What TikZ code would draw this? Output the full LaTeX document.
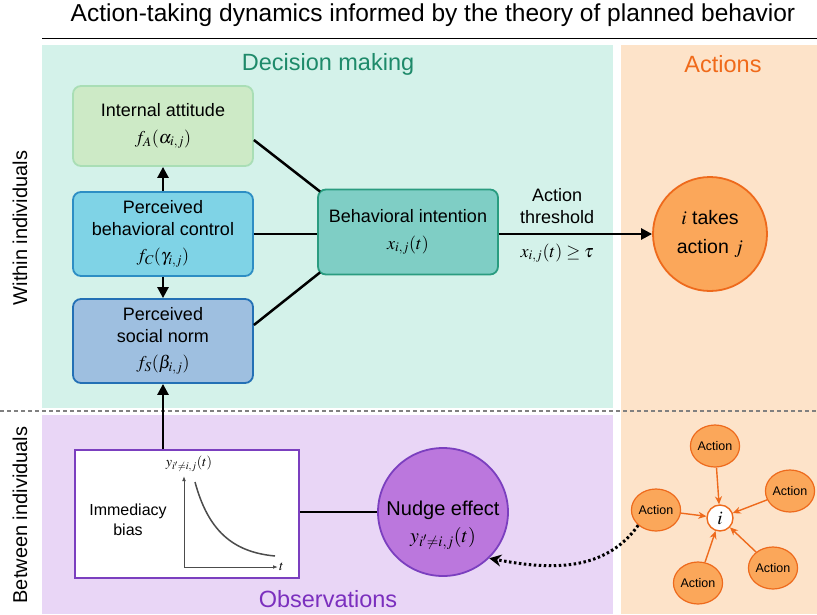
\documentclass[tikz,border=0pt]{standalone}
\usepackage{mathptmx}
\usepackage{amssymb}
\usepackage{fontspec}
\setmainfont{Liberation Sans}
\usetikzlibrary{positioning,arrows.meta,shapes.geometric}

\definecolor{decbg}{HTML}{D4F2EA}
\definecolor{actbg}{HTML}{FDE3C9}
\definecolor{obsbg}{HTML}{E9D6F6}
\definecolor{attfill}{HTML}{CDEAC6}
\definecolor{attline}{HTML}{A9DEB5}
\definecolor{ctlfill}{HTML}{7FD3E6}
\definecolor{ctlline}{HTML}{2D8EC4}
\definecolor{normfill}{HTML}{9EBFE0}
\definecolor{normline}{HTML}{2370B5}
\definecolor{intfill}{HTML}{7FCEC5}
\definecolor{intline}{HTML}{2A9C80}
\definecolor{actfill}{HTML}{FBA75A}
\definecolor{actline}{HTML}{EE6A1C}
\definecolor{nudfill}{HTML}{BB77DD}
\definecolor{nudline}{HTML}{7B3FBF}
\definecolor{dectext}{HTML}{1E8A6A}
\definecolor{acttext}{HTML}{F06A1A}
\definecolor{obstext}{HTML}{7B2FBE}

\tikzset{
  every node/.style={font=\fontsize{18}{22}\selectfont},
  factor/.style={draw, rounded corners=8pt, line width=1.8pt, align=center,
    minimum width=180pt, minimum height=82pt, inner sep=2pt},
  actnode/.style={ellipse, draw=actline, fill=actfill, line width=1.2pt,
    minimum width=46pt, minimum height=42pt, inner sep=0pt, font=\fontsize{12.5}{14}\selectfont},
  link/.style={line width=2.5pt},
  push/.style={line width=2.5pt, -{Triangle[length=11pt, width=11pt]}},
  feed/.style={draw=actline, line width=1.4pt, -{Stealth[length=8pt, width=7pt]}},
  region/.style={font=\fontsize{23.5}{26}\selectfont},
  sidelabel/.style={rotate=90, font=\fontsize{20}{24}\selectfont}
}

\begin{document}
\begin{tikzpicture}[x=1pt, y=-1pt]
  \useasboundingbox (0,0) rectangle (817,614);

  % backgrounds
  \fill[decbg] (42,45) rectangle (613,408);
  \fill[obsbg] (42,415) rectangle (613,614);
  \fill[actbg] (621,45) rectangle (817,614);
  \draw[gray, line width=1.2pt, dash pattern=on 4pt off 3pt] (0,411) -- (817,411);
  \draw[line width=0.8pt] (42,38) -- (817,38);

  % titles
  \node[font=\fontsize{24.5}{28}\selectfont] (title) at (433,15) {Action-taking dynamics informed by the theory of planned behavior};
  \node[region, text=dectext] (dec) at (328,64) {Decision making};
  \node[region, text=acttext] (act) at (723,64) {Actions};
  \node[region, text=obstext] (obs) at (328,599) {Observations};
  \node[sidelabel] (within) at (20,228) {Within individuals};
  \node[sidelabel] (between) at (20,515) {Between individuals};

  % decision making
  \node[factor, draw=attline, fill=attfill, minimum height=80pt] (att) at (163,126)
    {Internal attitude\\[5pt] $f_A(\alpha_{i,j})$};
  \node[factor, draw=ctlline, fill=ctlfill, minimum height=84pt] (ctl) at (163,234)
    {Perceived\\ behavioral control\\[4pt] $f_C(\gamma_{i,j})$};
  \node[factor, draw=normline, fill=normfill, minimum height=84pt] (norm) at (163,341)
    {Perceived\\ social norm\\[4pt] $f_S(\beta_{i,j})$};
  \node[factor, draw=intline, fill=intfill, minimum height=85pt] (int) at (408,232)
    {Behavioral intention\\[5pt] $x_{i,j}(t)$};
  \node[circle, draw=actline, fill=actfill, line width=1.8pt, minimum size=114pt,
    align=center, font=\fontsize{19.5}{29}\selectfont] (takes) at (710,234)
    {$i$ takes\\ action $j$};

  \draw[push] (ctl.north) -- (att.south);
  \draw[push] (ctl.south) -- (norm.north);
  \draw[link] ([yshift=-14pt]att.east) -- ([shift={(3pt,-3pt)}]int.north west);
  \draw[link] (ctl.east) -- (int.west |- ctl.east);
  \draw[link] ([yshift=16pt]norm.east) -- ([shift={(3pt,3pt)}]int.south west);
  \draw[push] (int.east |- takes) -- (takes.west)
    node[pos=0.38, above=6pt, align=center] {Action\\ threshold}
    node[pos=0.38, below=5pt] {$x_{i,j}(t) \geq \tau$};

  % observations
  \node[draw=nudline, fill=white, line width=1.8pt, minimum width=224pt,
    minimum height=128pt] (bias) at (187,514) {};
  \node[align=center, font=\fontsize{16}{20}\selectfont] (biastext) at (128,520) {Immediacy\\ bias};
  \coordinate (orig) at (184,567);
  \draw[black!70, line width=1pt, -{Latex[length=5pt]}] (orig) -- (184,476) coordinate (ytop);
  \draw[black!70, line width=1pt, -{Latex[length=5pt]}] (orig) -- (278,567) coordinate (xend);
  \node[inner sep=1pt, font=\fontsize{14}{16}\selectfont] (ylab) at (189,464) {$y_{i'\neq i,j}(t)$};
  \node[inner sep=1pt, font=\fontsize{14}{16}\selectfont, right=0pt of xend] (xlab) {$t$};
  \draw[black!70, line width=1.5pt] (195,482) .. controls (208,530) and (232,552) .. (275,556);
  \node[ellipse, draw=nudline, fill=nudfill, line width=1.8pt, minimum width=130pt,
    minimum height=128pt] (nudge) at (443,512) {};
  \node[align=center, font=\fontsize{20}{27}\selectfont] (nudgetext) at (443,525)
    {Nudge effect\\ $y_{i'\neq i,j}(t)$};
  \draw[push] (bias.north -| norm) -- (norm.south);
  \draw[link] (bias.east |- nudge) -- (nudge.west);

  % actions of others
  \node[circle, draw=actline, fill=white, line width=1.4pt, minimum size=26pt,
    inner sep=0pt, font=\fontsize{19}{20}\selectfont] (me) at (720,518) {$i$};
  \node[actnode] (a1) at (715,446) {Action};
  \node[actnode] (a2) at (790,491) {Action};
  \node[actnode] (a3) at (656,510) {Action};
  \node[actnode] (a4) at (698,583) {Action};
  \node[actnode] (a5) at (773,568) {Action};
  \foreach \a in {a1,a2,a3,a4,a5}
    \draw[feed] (\a) -- (me);
  \draw[line width=3pt, dash pattern=on 2.5pt off 2.5pt, -{Stealth[length=12pt, width=12pt]}]
    (a3.south west) .. controls (605,572) and (550,570) .. (nudge.-45);
\end{tikzpicture}
\end{document}
